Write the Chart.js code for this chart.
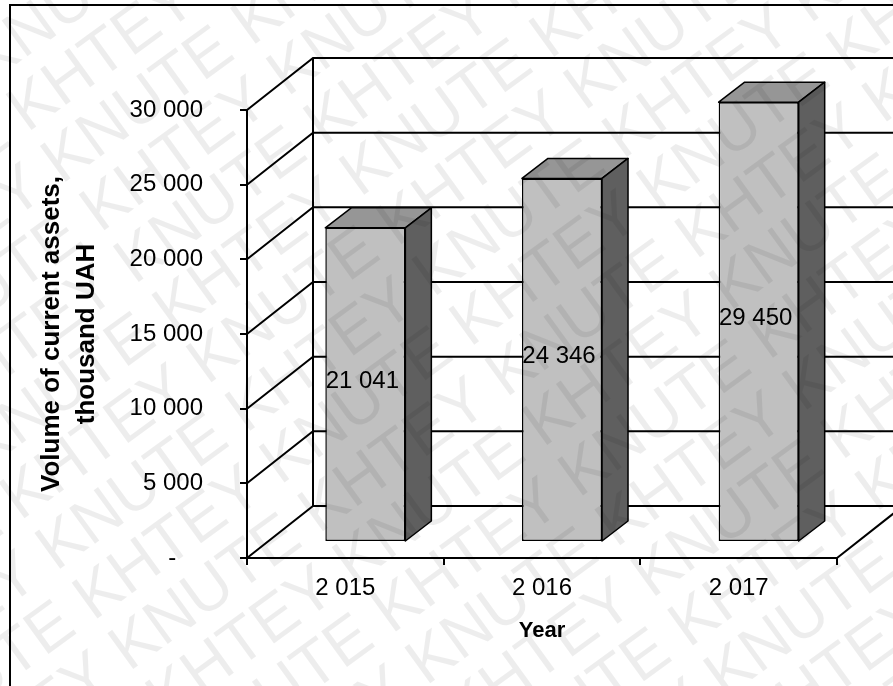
<!DOCTYPE html>
<html>
<head>
<meta charset="utf-8">
<title>Volume of current assets</title>
<script src="https://cdn.jsdelivr.net/npm/chart.js@4.4.1/dist/chart.umd.min.js"></script>
<style>
  html, body { margin: 0; padding: 0; background: #fff; }
  canvas { display: block; }
</style>
</head>
<body>
<canvas id="assetsChart" width="893" height="686"></canvas>
<script>
var years = ["2 015", "2 016", "2 017"];
var assets = [21041, 24346, 29450];
var yMax = 30000;
var yStep = 5000;
var axisTitle = ["Volume of current assets,", "thousand UAH"];

// depth of the box walls and of the bars, in pixels
var WALL_DX = 66, WALL_DY = -52;
var BAR_OFF_X = 20, BAR_OFF_Y = -16;
var BAR_DX = 26, BAR_DY = -20;

var FONT = "'Liberation Sans', Arial, sans-serif";

function fmtNumber(v) {
  if (v === 0) return "-    ";
  return String(Math.round(v)).replace(/\B(?=(\d{3})+(?!\d))/g, " ");
}

function poly(ctx, pts, fill) {
  ctx.beginPath();
  ctx.moveTo(pts[0][0], pts[0][1]);
  for (var i = 1; i < pts.length; i++) ctx.lineTo(pts[i][0], pts[i][1]);
  ctx.closePath();
  ctx.fillStyle = fill;
  ctx.fill();
  ctx.stroke();
}

var boxPlugin = {
  id: "box3d",
  beforeDraw: function (chart) {
    var ctx = chart.ctx;
    ctx.save();
    ctx.fillStyle = "#fff";
    ctx.fillRect(0, 0, chart.width, chart.height);
    ctx.restore();
  },
  beforeDatasetsDraw: function (chart) {
    var ctx = chart.ctx;
    var area = chart.chartArea;
    var y = chart.scales.y;
    ctx.save();
    ctx.strokeStyle = "#000";
    ctx.lineWidth = 2;
    ctx.beginPath();
    // back wall edge, side wall and back wall grid lines
    ctx.moveTo(area.left + WALL_DX, area.top + WALL_DY);
    ctx.lineTo(area.left + WALL_DX, area.bottom + WALL_DY);
    y.ticks.forEach(function (t) {
      var py = y.getPixelForValue(t.value);
      ctx.moveTo(area.left, py);
      ctx.lineTo(area.left + WALL_DX, py + WALL_DY);
      ctx.lineTo(area.right + WALL_DX, py + WALL_DY);
    });
    ctx.moveTo(area.right, area.bottom);
    ctx.lineTo(area.right + WALL_DX, area.bottom + WALL_DY);
    ctx.stroke();

    // top and side of each bar
    ctx.lineWidth = 1.5;
    ctx.lineJoin = "round";
    var meta = chart.getDatasetMeta(0);
    meta.data.forEach(function (bar) {
      var x0 = bar.x - bar.width / 2 + BAR_OFF_X;
      var x1 = bar.x + bar.width / 2 + BAR_OFF_X;
      var yt = bar.y + BAR_OFF_Y;
      var yb = bar.base + BAR_OFF_Y;
      poly(ctx, [[x0, yt], [x1, yt], [x1 + BAR_DX, yt + BAR_DY], [x0 + BAR_DX, yt + BAR_DY]], "#969696");
      poly(ctx, [[x1, yt], [x1 + BAR_DX, yt + BAR_DY], [x1 + BAR_DX, yb + BAR_DY], [x1, yb]], "#5f5f5f");
    });
    ctx.restore();

    // front faces are drawn by the bar controller, pushed into depth
    ctx.save();
    ctx.translate(BAR_OFF_X, BAR_OFF_Y);
  },
  afterDatasetsDraw: function (chart) {
    var ctx = chart.ctx;
    ctx.restore();
    ctx.save();
    ctx.fillStyle = "#000";
    ctx.font = "24px " + FONT;
    ctx.textAlign = "center";
    ctx.textBaseline = "middle";
    chart.getDatasetMeta(0).data.forEach(function (bar, i) {
      ctx.fillText(fmtNumber(assets[i]), bar.x + BAR_OFF_X - 3, (bar.y + bar.base) / 2 + BAR_OFF_Y - 3);
    });
    ctx.restore();
  },
  afterDraw: function (chart) {
    var ctx = chart.ctx;
    var w = chart.width, h = chart.height;
    // outer frame
    ctx.save();
    ctx.strokeStyle = "#000";
    ctx.lineWidth = 2;
    ctx.strokeRect(10, 5, 1000, 1000);
    ctx.restore();

    // diagonal watermark
    ctx.save();
    ctx.fillStyle = "rgba(0,0,0,0.07)";
    ctx.font = "64px " + FONT;
    ctx.textBaseline = "middle";
    ctx.translate(w / 2, h / 2);
    ctx.rotate(-36 * Math.PI / 180);
    var row = "";
    for (var k = 0; k < 8; k++) row += "KNUTE KHTEY ";
    for (var r = -10; r <= 10; r++) {
      ctx.fillText(row, -1150 + (r % 2 === 0 ? 0 : -232), r * 62);
    }
    ctx.restore();
  }
};

Chart.defaults.font.family = FONT;
Chart.defaults.color = "#000";

var ctx = document.getElementById("assetsChart").getContext("2d");
var chart = new Chart(ctx, {
  type: "bar",
  data: {
    labels: years,
    datasets: [
      {
        data: assets,
        backgroundColor: "#c0c0c0",
        borderColor: "#000",
        borderWidth: 1.5,
        borderSkipped: false,
        categoryPercentage: 1,
        barPercentage: 0.407
      }
    ]
  },
  options: {
    responsive: false,
    animation: false,
    layout: { padding: { left: 0, top: 110, right: 56, bottom: 0 } },
    plugins: {
      legend: { display: false },
      tooltip: { enabled: false }
    },
    scales: {
      x: {
        offset: true,
        grid: { offset: true, drawOnChartArea: false, tickLength: 7, color: "#000", lineWidth: 2 },
        border: { display: true, color: "#000", width: 2 },
        ticks: { color: "#000", font: { size: 24 }, padding: 9, maxRotation: 0 },
        title: {
          display: true,
          text: "Year",
          color: "#000",
          font: { size: 22, weight: "bold" },
          padding: { top: 0, bottom: 42 }
        },
        afterFit: function (scale) { scale.height = 128; }
      },
      y: {
        min: 0,
        max: yMax,
        grid: { drawOnChartArea: false, tickLength: 7, color: "#000", lineWidth: 2 },
        border: { display: true, color: "#000", width: 2 },
        ticks: {
          stepSize: yStep,
          color: "#000",
          font: { size: 24 },
          padding: 37,
          callback: function (v) { return fmtNumber(v); }
        },
        title: {
          display: true,
          text: axisTitle,
          color: "#000",
          font: { size: 26, weight: "bold", lineHeight: 1.35 },
          padding: { top: 34, bottom: 0 }
        },
        afterFit: function (scale) { scale.width = 247; }
      }
    }
  },
  plugins: [boxPlugin]
});
</script>
</body>
</html>
